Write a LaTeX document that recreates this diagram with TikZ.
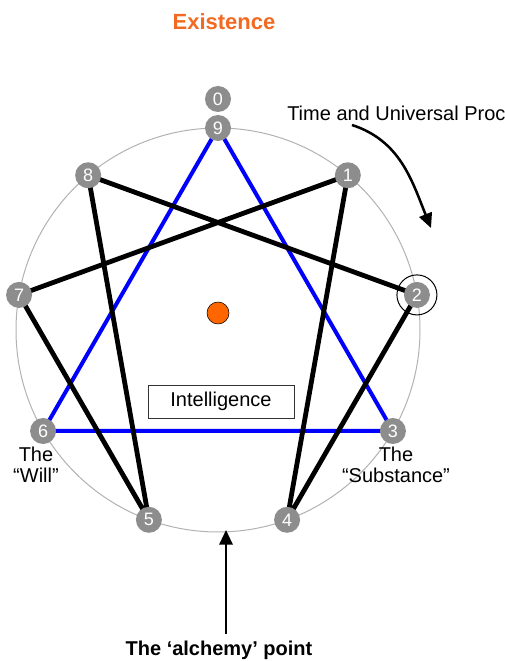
\documentclass[tikz,border=0pt]{standalone}
\usepackage{fontspec}
\setmainfont{Liberation Sans}
\usetikzlibrary{arrows.meta,backgrounds,calc}
\definecolor{exorange}{RGB}{242,106,34}
\definecolor{ptgray}{RGB}{141,141,141}
\definecolor{dotorange}{RGB}{255,102,0}
\tikzset{
  pt/.style={circle,fill=ptgray,text=white,inner sep=0pt,minimum size=19.5pt,
    font=\fontsize{13.5}{14}\selectfont},
  chord/.style={line width=3.6pt,line join=round},
  tri/.style={line width=3pt,blue,line join=round},
  lbl/.style={align=center,inner sep=0pt,font=\fontsize{15}{15.75}\selectfont},
  pointer/.style={line width=1.6pt,-{Triangle[width=10pt,length=11pt]}},
}
\begin{document}
\begin{tikzpicture}[x=0.75pt,y=0.75pt]
  \path[use as bounding box] (0,0) rectangle (505,661);
  \clip (0,0) rectangle (505,661);
  \coordinate (c) at (218,331);             % centre of the circle
  \foreach \k in {1,...,9}
    \node[pt] (n\k) at ($(c)+(90-40*\k:202)$) {\k};
  \node[pt] (n0) at (218,562) {0};
  \begin{scope}[on background layer]
    \draw[black!30,line width=0.75pt] (c) circle[radius=202];
    \draw[tri] (n9.center) -- (n3.center) -- (n6.center) -- cycle;   % 9-3-6
    \draw[chord] (n1.center) -- (n4.center) -- (n2.center) -- (n8.center)
      -- (n5.center) -- (n7.center) -- cycle;                         % 1-4-2-8-5-7
  \end{scope}
  \draw[line width=0.75pt] (n2.center) circle[radius=20];
  \node[circle,draw,fill=dotorange,inner sep=0pt,minimum size=16.5pt] (core) at (218,348) {};
  \node[lbl,draw=black!80,line width=0.6pt,minimum width=109.5pt,minimum height=24.75pt]
    (intel) at (221,259.5) {Intelligence};
  \node[lbl] (will) at (36,196) {The\\“Will”};
  \node[lbl] (subst) at (396,196) {The\\“Substance”};
  \node[lbl,anchor=base,text=exorange,font=\bfseries\fontsize{16.5}{18}\selectfont]
    (exist) at (224,631) {Existence};
  \node[lbl,anchor=base west] (time) at (287,540) {Time and Universal Proc};
  \node[lbl,anchor=base,font=\bfseries\fontsize{15}{16}\selectfont]
    (alch) at (219,6) {The ‘alchemy’ point};
  % arrows
  \coordinate (tstart) at (352,536);
  \coordinate (tend) at (431,433);
  \draw[pointer,line width=1.9pt] (tstart) to[out=-18,in=112] (tend);
  \coordinate (bottom) at (226,131);
  \draw[pointer] (alch.north -| bottom) ++(0,6) -- (bottom);
\end{tikzpicture}
\end{document}
